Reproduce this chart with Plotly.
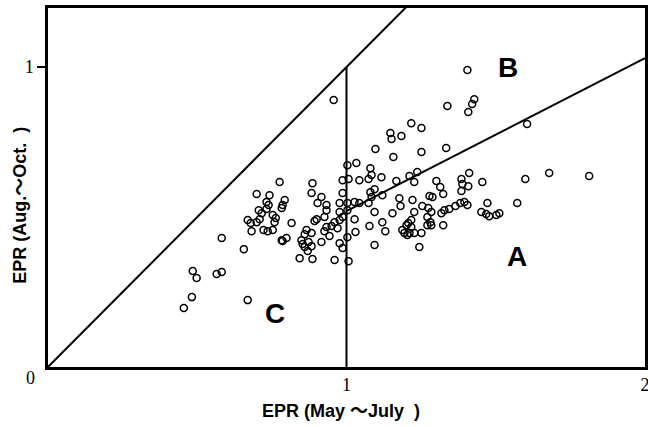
import plotly.graph_objects as go

# EPR (May~July) on x, EPR (Aug.~Oct.) on y
epr_may_jul = [
    0.455, 0.482, 0.485, 0.498, 0.565, 0.582, 0.582, 0.656, 0.669, 0.776,
    0.699, 0.742, 0.732, 0.739, 0.732, 0.793, 0.786, 0.783, 0.706, 0.716,
    0.753, 0.763, 0.759, 0.669, 0.679, 0.699, 0.709, 0.682, 0.722, 0.736,
    0.753, 0.783, 0.799, 0.886, 0.883, 0.916, 0.903, 0.933, 0.933, 0.977,
    0.987, 0.900, 0.893, 0.960, 0.977, 0.987, 0.816, 0.933, 0.950, 0.926,
    0.970, 0.866, 0.860, 0.883, 0.786, 0.849, 0.853, 0.873, 0.860, 0.883,
    0.870, 0.916, 0.977, 0.987, 0.843, 0.886, 0.960, 0.957, 0.987, 0.977,
    0.926, 0.943,
    1.003, 1.033, 1.080, 1.097, 1.007, 1.043, 1.074, 1.003, 1.027, 1.043,
    1.074, 1.003, 1.094, 1.027, 1.030, 1.003, 1.077, 1.094, 1.007, 1.080,
    1.094, 1.120, 1.177, 1.181, 1.405, 1.428, 1.421, 1.408, 1.338, 1.217,
    1.251, 1.147, 1.151, 1.184, 1.251, 1.334, 1.157, 1.084, 1.117, 1.237,
    1.211, 1.227, 1.167, 1.301, 1.314, 1.324, 1.385, 1.388, 1.411, 1.408,
    1.455, 1.385, 1.084, 1.221, 1.278, 1.288, 1.154, 1.227, 1.254, 1.274,
    1.284, 1.328, 1.344, 1.365, 1.381, 1.395, 1.405, 1.318, 1.472, 1.452,
    1.468, 1.478, 1.502, 1.271, 1.281, 1.271, 1.284, 1.324, 1.120, 1.130,
    1.187, 1.201, 1.207, 1.217, 1.217, 1.211, 1.194, 1.204, 1.227, 1.251,
    1.244, 1.605, 1.679, 1.599, 1.813, 1.572, 1.512,
]
epr_aug_oct = [
    0.197, 0.233, 0.320, 0.297, 0.310, 0.317, 0.430, 0.393, 0.223, 0.617,
    0.577, 0.573, 0.550, 0.540, 0.527, 0.557, 0.540, 0.530, 0.523, 0.513,
    0.507, 0.497, 0.483, 0.490, 0.480, 0.483, 0.493, 0.453, 0.457, 0.453,
    0.457, 0.423, 0.430, 0.613, 0.580, 0.567, 0.547, 0.540, 0.523, 0.547,
    0.580, 0.493, 0.487, 0.483, 0.490, 0.500, 0.480, 0.467, 0.470, 0.453,
    0.463, 0.457, 0.443, 0.447, 0.420, 0.423, 0.410, 0.417, 0.400, 0.403,
    0.387, 0.417, 0.413, 0.397, 0.363, 0.360, 0.357, 0.890, 0.623, 0.517,
    0.500, 0.437,
    0.673, 0.680, 0.663, 0.727, 0.627, 0.623, 0.627, 0.547, 0.550, 0.547,
    0.547, 0.523, 0.517, 0.493, 0.450, 0.433, 0.470, 0.407, 0.353, 0.583,
    0.593, 0.573, 0.563, 0.537, 0.990, 0.893, 0.877, 0.850, 0.870, 0.813,
    0.797, 0.780, 0.760, 0.770, 0.717, 0.730, 0.700, 0.640, 0.633, 0.650,
    0.637, 0.617, 0.620, 0.620, 0.600, 0.577, 0.627, 0.610, 0.647, 0.603,
    0.617, 0.587, 0.567, 0.557, 0.570, 0.567, 0.513, 0.517, 0.537, 0.530,
    0.517, 0.523, 0.527, 0.537, 0.547, 0.550, 0.540, 0.513, 0.547, 0.517,
    0.510, 0.503, 0.507, 0.500, 0.483, 0.473, 0.473, 0.473, 0.483, 0.453,
    0.457, 0.473, 0.480, 0.490, 0.467, 0.447, 0.447, 0.440, 0.447, 0.447,
    0.400, 0.810, 0.647, 0.627, 0.637, 0.547, 0.513,
]

# boundary lines between regions
diag_x = [0.0, 1.25]
diag_y = [0.0, 1.25]
vert_x = [1.0, 1.0]
vert_y = [0.0, 1.0]
ab_x = [1.0, 2.0]
ab_y = [0.52, 1.03]

region_labels = ["A", "B", "C"]
region_x = [1.57, 1.54, 0.76]
region_y = [0.37, 1.0, 0.18]

x_ticks = [1, 2]
x_ticklabels = ["1", "2"]
y_ticks = [1]
y_ticklabels = ["1"]

fig = go.Figure()
for lx, ly in [(diag_x, diag_y), (vert_x, vert_y), (ab_x, ab_y)]:
    fig.add_trace(go.Scatter(x=lx, y=ly, mode="lines",
                             line=dict(color="black", width=2), showlegend=False,
                             hoverinfo="skip"))
fig.add_trace(go.Scatter(x=epr_may_jul, y=epr_aug_oct, mode="markers",
                         marker=dict(symbol="circle-open", size=7, color="black",
                                     line=dict(width=1.5, color="black")),
                         showlegend=False))

for t, xx, yy in zip(region_labels, region_x, region_y):
    fig.add_annotation(x=xx, y=yy, text="<b>" + t + "</b>", showarrow=False,
                       font=dict(family="Liberation Sans", size=28, color="black"))

fig.add_annotation(xref="paper", yref="paper", x=-0.03, y=-0.03,
                   xanchor="center", yanchor="middle", text="0",
                   showarrow=False, font=dict(family="Liberation Serif", size=18, color="black"))
fig.add_annotation(xref="paper", yref="paper", x=0.49, y=-0.123, xanchor="center",
                   yanchor="middle",
                   text="<b>EPR (May ～July  )</b>", showarrow=False,
                   font=dict(family="Liberation Sans, Noto Sans CJK JP", size=18, color="black"))
fig.add_annotation(xref="paper", yref="paper", x=-0.047, y=0.452, xanchor="center",
                   yanchor="middle", textangle=-90,
                   text="<b>EPR (Aug.～Oct.  )</b>", showarrow=False,
                   font=dict(family="Liberation Sans, Noto Sans CJK JP", size=18, color="black"))

fig.update_xaxes(range=[0, 2], tickvals=x_ticks, ticktext=x_ticklabels, ticks="",
                 automargin=False, ticklabeloverflow="allow",
                 showgrid=False, zeroline=False, showline=True, mirror=True,
                 linecolor="black", linewidth=2.5,
                 tickfont=dict(family="Liberation Serif", size=18, color="black"))
fig.update_yaxes(range=[0, 1.197], tickvals=y_ticks, ticktext=y_ticklabels,
                 automargin=False, ticklabeloverflow="allow",
                 ticks="outside", ticklen=8, tickwidth=2, tickcolor="black",
                 showgrid=False, zeroline=False, showline=True, mirror=True,
                 linecolor="black", linewidth=2.5,
                 tickfont=dict(family="Liberation Serif", size=18, color="black"))

fig.update_layout(width=648, height=427, margin=dict(l=48, r=3, t=8, b=60),
                  plot_bgcolor="white", paper_bgcolor="white")
fig.write_html("out.html")
